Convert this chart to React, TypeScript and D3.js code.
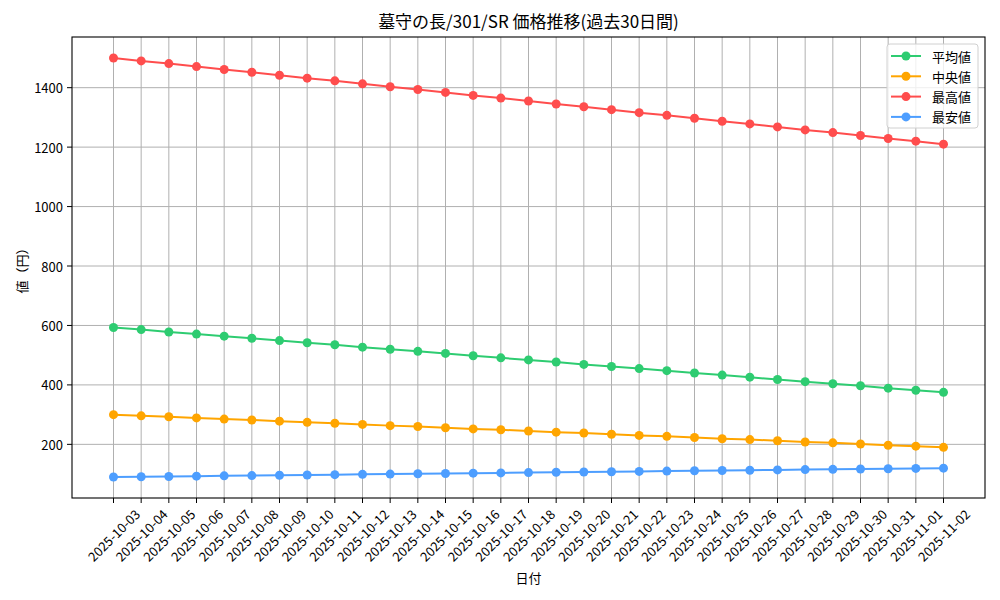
import * as d3 from "d3";

const dates = [
  "2025-10-03", "2025-10-04", "2025-10-05", "2025-10-06", "2025-10-07", "2025-10-08",
  "2025-10-09", "2025-10-10", "2025-10-11", "2025-10-12", "2025-10-13", "2025-10-14",
  "2025-10-15", "2025-10-16", "2025-10-17", "2025-10-18", "2025-10-19", "2025-10-20",
  "2025-10-21", "2025-10-22", "2025-10-23", "2025-10-24", "2025-10-25", "2025-10-26",
  "2025-10-27", "2025-10-28", "2025-10-29", "2025-10-30", "2025-10-31", "2025-11-01",
  "2025-11-02",
];

const avgValues = [
  593, 586, 578, 571, 564, 557, 549, 542, 535, 527, 520, 513, 506, 498, 491, 484,
  477, 469, 462, 455, 448, 440, 433, 426, 418, 411, 404, 397, 389, 382, 375,
];
const medianValues = [
  300, 296, 293, 289, 285, 282, 278, 274, 271, 267, 263, 260, 256, 252, 249, 245,
  241, 238, 234, 230, 227, 223, 219, 216, 212, 208, 205, 201, 197, 194, 190,
];
const maxValues = [
  1500, 1490, 1481, 1471, 1461, 1452, 1442, 1432, 1423, 1413, 1403, 1394, 1384, 1374,
  1365, 1355, 1345, 1336, 1326, 1316, 1307, 1297, 1287, 1278, 1268, 1258, 1249, 1239,
  1229, 1220, 1210,
];
const minValues = [
  90, 91, 92, 93, 94, 95, 96, 97, 98, 99, 100, 101, 102, 103, 104, 105, 106, 107, 108,
  109, 110, 111, 112, 113, 114, 115, 116, 117, 118, 119, 120,
];

const yTicks = [200, 400, 600, 800, 1000, 1200, 1400];

const series = [
  { name: "平均値", color: "#2ecc71", values: avgValues },
  { name: "中央値", color: "#ffa500", values: medianValues },
  { name: "最高値", color: "#ff4d4d", values: maxValues },
  { name: "最安値", color: "#4d9eff", values: minValues },
];

const FONT = "'Noto Sans CJK JP', 'Noto Sans', sans-serif";

export default function App() {
  const W = 1000;
  const H = 600;
  const plot = { left: 72, right: 985, top: 37, bottom: 498 };

  // matplotlib-style 5% margins
  const n = dates.length;
  const x = d3.scaleLinear().domain([-1.5, n - 1 + 1.5]).range([plot.left, plot.right]);
  const all = series.flatMap(s => s.values);
  const lo = d3.min(all) as number;
  const hi = d3.max(all) as number;
  const pad = (hi - lo) * 0.05;
  const y = d3.scaleLinear().domain([lo - pad, hi + pad]).range([plot.bottom, plot.top]);

  const line = d3.line<number>()
    .x((_, i) => x(i))
    .y(d => y(d));

  return (
    <svg width={W} height={H} style={{ position: "absolute", left: 0, top: 0, background: "#fff" }} fontFamily={FONT}>
      <rect x={0} y={0} width={W} height={H} fill="#fff" />

      {/* grid */}
      <g stroke="#b0b0b0" strokeWidth={1}>
        {dates.map((_, i) => (
          <line key={"gx" + i} x1={x(i)} x2={x(i)} y1={plot.top} y2={plot.bottom} />
        ))}
        {yTicks.map(t => (
          <line key={"gy" + t} x1={plot.left} x2={plot.right} y1={y(t)} y2={y(t)} />
        ))}
      </g>

      {/* series */}
      {series.map(s => (
        <g key={s.name}>
          <path d={line(s.values) ?? ""} fill="none" stroke={s.color} strokeWidth={2} />
          {s.values.map((v, i) => (
            <circle key={i} cx={x(i)} cy={y(v)} r={4.5} fill={s.color} />
          ))}
        </g>
      ))}

      {/* spines */}
      <rect x={plot.left} y={plot.top} width={plot.right - plot.left} height={plot.bottom - plot.top}
        fill="none" stroke="#000" strokeWidth={1.1} />

      {/* y axis */}
      <g fontSize={13} fill="#000">
        {yTicks.map(t => (
          <g key={"yt" + t}>
            <line x1={plot.left - 5} x2={plot.left} y1={y(t)} y2={y(t)} stroke="#000" strokeWidth={1} />
            <text x={plot.left - 9} y={y(t)} textAnchor="end" dominantBaseline="central">{t}</text>
          </g>
        ))}
      </g>

      {/* x axis */}
      <g fontSize={13} fill="#000">
        {dates.map((d, i) => (
          <g key={"xt" + i}>
            <line x1={x(i)} x2={x(i)} y1={plot.bottom} y2={plot.bottom + 5} stroke="#000" strokeWidth={1} />
            <text
              transform={`translate(${x(i)},${535}) rotate(-45)`}
              textAnchor="middle"
              dominantBaseline="central"
            >{d}</text>
          </g>
        ))}
      </g>

      {/* labels */}
      <text x={(plot.left + plot.right) / 2} y={28} textAnchor="middle" fontSize={17}>
        墓守の長/301/SR 価格推移(過去30日間)
      </text>
      <text x={(plot.left + plot.right) / 2} y={583} textAnchor="middle" fontSize={13}>日付</text>
      <text transform={`translate(21,${(plot.top + plot.bottom) / 2}) rotate(-90)`} textAnchor="middle"
        dominantBaseline="central" fontSize={13}>値（円）</text>

      {/* legend */}
      <g>
        <rect x={887} y={44} width={91} height={84} rx={3} fill="#fff" fillOpacity={0.8} stroke="#d0d0d0" strokeWidth={1} />
        {series.map((s, i) => {
          const ly = 56 + i * 20.3;
          return (
            <g key={"lg" + s.name}>
              <line x1={891} x2={921} y1={ly} y2={ly} stroke={s.color} strokeWidth={2} />
              <circle cx={906} cy={ly} r={4.5} fill={s.color} />
              <text x={932} y={ly} dominantBaseline="central" fontSize={13}>{s.name}</text>
            </g>
          );
        })}
      </g>
    </svg>
  );
}
